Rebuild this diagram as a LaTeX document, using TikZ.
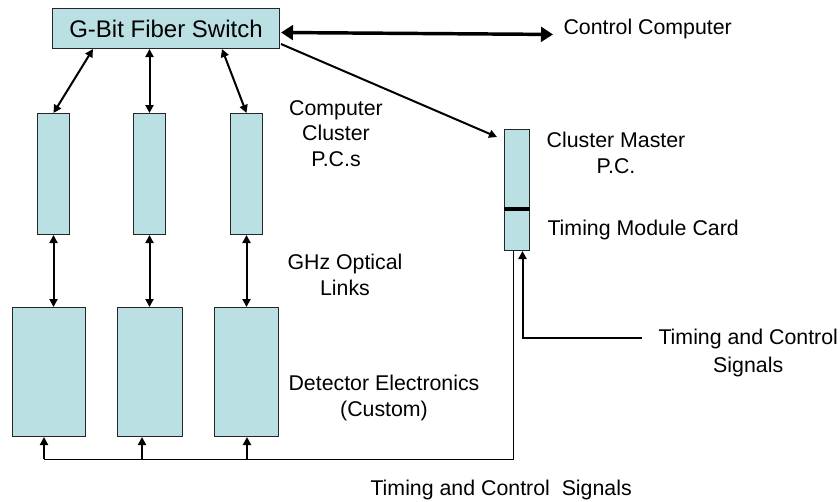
\documentclass[tikz,border=0pt]{standalone}
\usepackage{fontspec}
\setmainfont{Liberation Sans}
\usetikzlibrary{arrows.meta,calc}
\definecolor{boxfill}{RGB}{187,224,227}
\tikzset{every picture/.style={line width=0.75pt}}

\begin{document}
\begin{tikzpicture}[x=0.75pt,y=0.75pt,yscale=-1,xscale=1,
  unit/.style={draw=black!85,fill=boxfill,inner sep=0pt,anchor=north west},
  link/.style={line width=1.5pt,{Triangle[length=6pt,width=6pt]}-{Triangle[length=6pt,width=6pt]}},
  feed/.style={line width=1.5pt,-{Triangle[length=6pt,width=6pt]}},
  lbl/.style={inner sep=0pt,font=\fontsize{16}{19}\selectfont,align=center}]
\useasboundingbox (0,0) rectangle (840,501);

%Shape: Switch
\node[unit,minimum width=227*0.75pt,minimum height=40*0.75pt,font=\fontsize{18}{20}\selectfont] (switch) at (52,8) {G-Bit Fiber Switch};
%Shape: Cluster P.C.s
\foreach \x/\n in {37/1,133/2,230/3}
  \node[unit,minimum width=32*0.75pt,minimum height=121*0.75pt] (pc\n) at (\x,113) {};
%Shape: Detector Electronics
\foreach \x/\w/\n in {12/73/1,117/65/2,214/64/3}
  \node[unit,minimum width=\w*0.75pt,minimum height=129*0.75pt] (det\n) at (\x,307) {};
%Shape: Cluster Master
\node[unit,minimum width=25*0.75pt,minimum height=121*0.75pt] (master) at (504,129) {};
\draw[line width=3pt] ($(master.north west)+(0,80)$) -- ($(master.north east)+(0,80)$);

% Text Node
\node[lbl,anchor=north west] (ccl) at (563,19) {Control Computer};
% Text Node
\node[lbl,anchor=north] (pclbl) at (336,100) {Computer\\Cluster\\P.C.s};
% Text Node
\node[lbl,anchor=north] (mstlbl) at (616,132) {Cluster Master\\P.C.};
% Text Node
\node[lbl,anchor=north west] (tmclbl) at (547,220) {Timing Module Card};
% Text Node
\node[lbl,anchor=north] (optlbl) at (345,254) {GHz Optical\\Links};
% Text Node
\node[lbl,anchor=north] (detlbl) at (384,375) {Detector Electronics\\(Custom)};
% Text Node
\node[lbl,anchor=north west,font=\fontsize{16}{21}\selectfont] (tcl) at (658,329) {Timing and Control\\Signals};
% Text Node
\node[lbl,anchor=north west] (buslbl) at (370,480) {Timing and Control~ Signals};

%Arrows: switch to control computer and master
\draw[line width=2.6pt,{Triangle[length=9pt,width=11pt]}-{Triangle[length=9pt,width=11pt]}] ($(switch.east)+(1,4)$) -- ($(ccl.west)+(-10,5)$);
\draw[feed] ($(switch.south east)+(1,-5)$) -- ($(master.north west)+(-7,8)$);
%Arrows: switch to P.C.s
\draw[link] ($(switch.south west)+(41,0)$) -- (pc1.north);
\draw[link] (pc2.north |- switch.south) -- (pc2.north);
\draw[link] ($(switch.south west)+(170,0)$) -- (pc3.north);
%Arrows: optical links
\foreach \n in {1,2,3}
  \draw[link] (pc\n.south) -- (pc\n.south |- det\n.north);

%Timing bus
\coordinate (busR) at (513,459);
\coordinate (busL) at (44,459);
\draw (busR |- master.south) -- (busR) -- (busL);
\foreach \x/\n in {44/1,142/2,247/3}
  \draw[feed] (busL -| \x,0) -- (det\n.south -| \x,0);
\draw[feed] ($(tcl.north west)+(-16,9)$) -| ($(master.south)+(5.5,0)$);

\end{tikzpicture}
\end{document}
